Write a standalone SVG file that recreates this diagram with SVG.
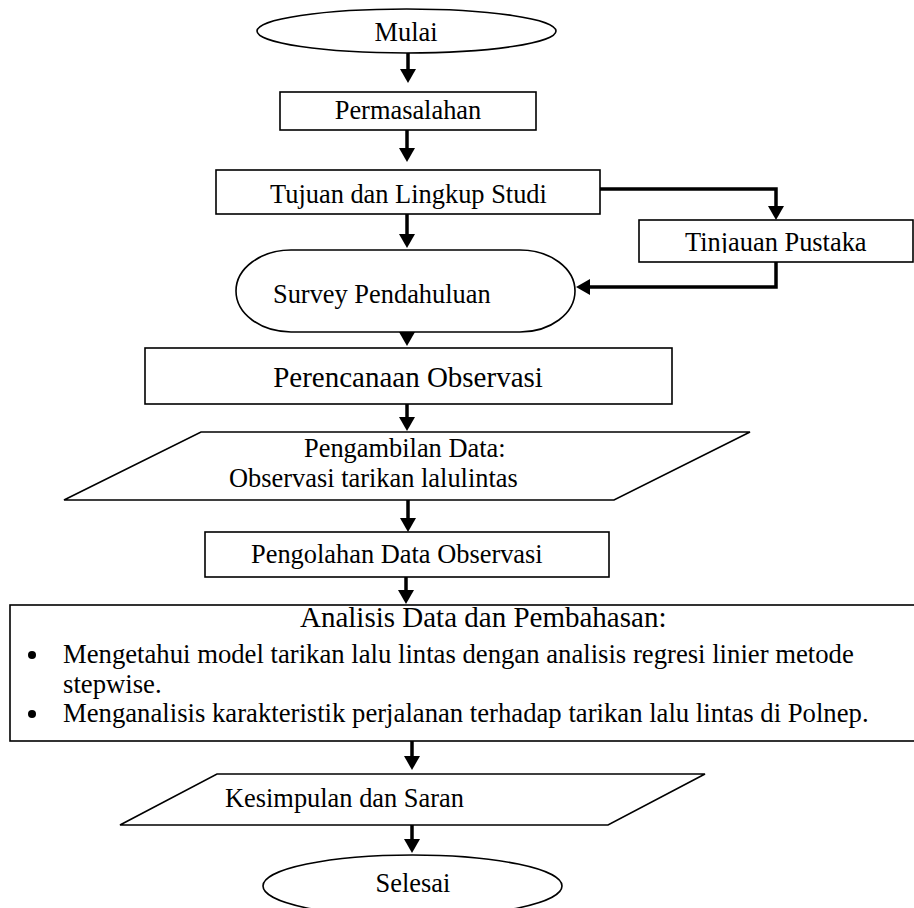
<svg xmlns="http://www.w3.org/2000/svg" width="914" height="908" viewBox="0 0 914 908">
<style>
  .shape { fill: #ffffff; stroke: #000000; stroke-width: 1.6; }
  .t { font-family: "Liberation Serif", "Times New Roman", serif; font-size: 26.4px; fill: #000000; }
  .tb { font-family: "Liberation Serif", "Times New Roman", serif; font-size: 26.7px; fill: #000000; }
  .tl { font-family: "Liberation Serif", "Times New Roman", serif; font-size: 29px; fill: #000000; }
  .c { text-anchor: middle; }
  .conn { fill: none; stroke: #000000; stroke-width: 3.5; marker-end: url(#ah); }
</style>
<defs>
  <marker id="ah" markerUnits="userSpaceOnUse" markerWidth="16" markerHeight="16" refX="2" refY="8" orient="auto">
    <path d="M0,0 L14,8 L0,16 z" fill="#000000"/>
  </marker>
  <clipPath id="clipTinjauan">
    <rect x="640" y="221" width="272" height="32"/>
  </clipPath>
</defs>
<rect x="0" y="0" width="914" height="908" fill="#ffffff"/>

<g id="connectors">
  <path class="conn" d="M408,53 V71"/>
  <path class="conn" d="M407,130 V150"/>
  <path class="conn" d="M407,214 V236"/>
  <path class="conn" d="M407,332 V334"/>
  <path class="conn" d="M407,404 V419"/>
  <path class="conn" d="M408,500 V520"/>
  <path class="conn" d="M406,577 V592"/>
  <path class="conn" d="M412,741 V758"/>
  <path class="conn" d="M412,825 V841"/>
  <path class="conn" d="M600,189 H776 V208"/>
  <path class="conn" d="M776,262 V287 H588"/>
</g>

<g id="mulai">
  <ellipse class="shape" cx="406.5" cy="31" rx="149.5" ry="22"/>
  <text class="t c" x="406" y="41">Mulai</text>
</g>

<g id="permasalahan">
  <rect class="shape" x="280" y="92" width="256" height="38"/>
  <text class="t c" x="408" y="119">Permasalahan</text>
</g>

<g id="tujuan">
  <rect class="shape" x="216" y="170" width="384" height="44"/>
  <text class="t" x="270" y="203">Tujuan dan Lingkup Studi</text>
</g>

<g id="tinjauan">
  <rect class="shape" x="639" y="220" width="274" height="42"/>
  <text class="t" x="685" y="251" clip-path="url(#clipTinjauan)">Tinjauan Pustaka</text>
</g>

<g id="survey">
  <rect class="shape" x="236" y="250" width="339" height="82" rx="55" ry="41"/>
  <text class="t" x="273" y="303">Survey Pendahuluan</text>
</g>

<g id="perencanaan">
  <rect class="shape" x="145" y="348" width="527" height="56"/>
  <text class="tl c" x="408" y="387">Perencanaan Observasi</text>
</g>

<g id="pengambilan">
  <polygon class="shape" points="201,432 750,432 614,500 64,500"/>
  <text class="t" x="304" y="457">Pengambilan Data:</text>
  <text class="t" x="229" y="487">Observasi tarikan lalulintas</text>
</g>

<g id="pengolahan">
  <rect class="shape" x="205" y="532" width="404" height="45"/>
  <text class="t" x="251" y="563">Pengolahan Data Observasi</text>
</g>

<g id="analisis">
  <rect class="shape" x="10" y="605" width="910" height="136"/>
  <text class="tl" x="300" y="627">Analisis Data dan Pembahasan:</text>
  <circle cx="32" cy="655" r="4" fill="#000000"/>
  <text class="tb" x="63" y="663">Mengetahui model tarikan lalu lintas dengan analisis regresi linier metode</text>
  <text class="tb" x="63" y="692.5">stepwise.</text>
  <circle cx="32" cy="714" r="4" fill="#000000"/>
  <text class="tb" x="63" y="722">Menganalisis karakteristik perjalanan terhadap tarikan lalu lintas di Polnep.</text>
</g>

<g id="kesimpulan">
  <polygon class="shape" points="217,774 705,774 608,825 120,825"/>
  <text class="t" x="225" y="807">Kesimpulan dan Saran</text>
</g>

<g id="selesai">
  <ellipse class="shape" cx="412.5" cy="886" rx="149.5" ry="31"/>
  <text class="t c" x="413" y="892">Selesai</text>
</g>
</svg>
